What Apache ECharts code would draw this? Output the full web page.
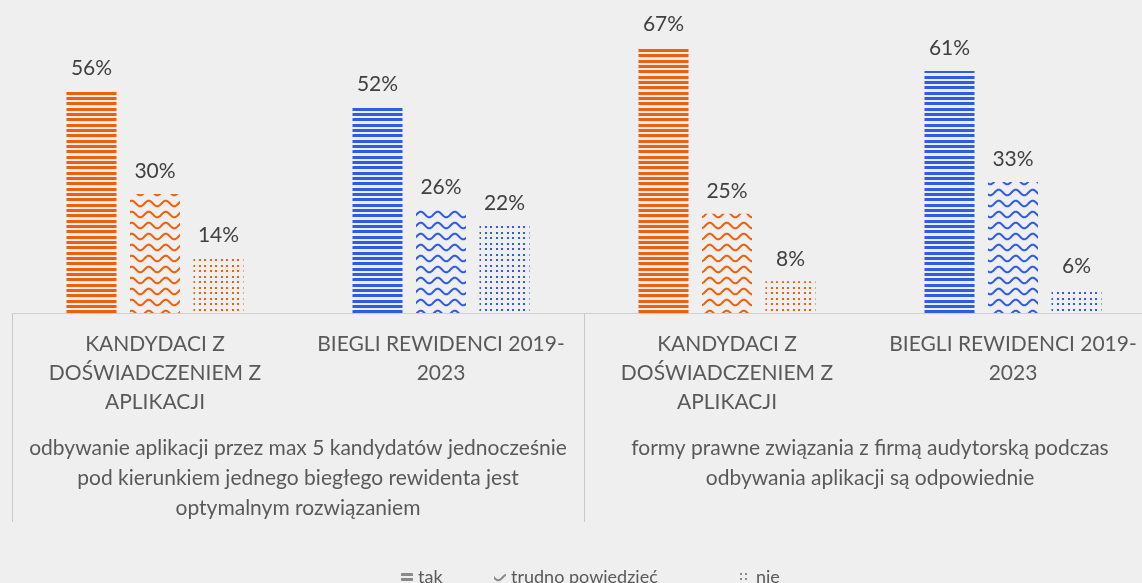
<!DOCTYPE html>
<html>
<head>
<meta charset="utf-8">
<script src="https://cdn.jsdelivr.net/npm/echarts@6/dist/echarts.min.js"></script>
<style>
html,body{margin:0;padding:0;background:#efefef;}
#chart{width:1142px;height:583px;}
</style>
</head>
<body>
<div id="chart"></div>
<script>
const categories = [
  'KANDYDACI Z\nDOŚWIADCZENIEM Z\nAPLIKACJI',
  'BIEGLI REWIDENCI 2019-\n2023',
  'KANDYDACI Z\nDOŚWIADCZENIEM Z\nAPLIKACJI',
  'BIEGLI REWIDENCI 2019-\n2023'
];
const groups = [
  'odbywanie aplikacji przez max 5 kandydatów jednocześnie\npod kierunkiem jednego biegłego rewidenta jest\noptymalnym rozwiązaniem',
  'formy prawne związania z firmą audytorską podczas\nodbywania aplikacji są odpowiednie'
];
const seriesNames = ['tak', 'trudno powiedzieć', 'nie'];
const tak = [56, 52, 67, 61];
const trudno = [30, 26, 25, 33];
const nie = [14, 22, 8, 6];

const ORANGE = '#F0600A';
const BLUE = '#2F5BEA';
const GRAY = '#8a8a8a';
const catColors = [ORANGE, BLUE, ORANGE, BLUE];

function stripes(color) {
  const c = document.createElement('canvas');
  c.width = 8; c.height = 16;
  const g = c.getContext('2d');
  g.fillStyle = color;
  g.fillRect(0, 1, 8, 3);
  g.fillRect(0, 6, 8, 3);
  g.fillRect(0, 12, 8, 3);
  return { image: c, repeat: 'repeat' };
}
function waves(color) {
  const c = document.createElement('canvas');
  c.width = 17; c.height = 11;
  const g = c.getContext('2d');
  g.strokeStyle = color;
  g.lineWidth = 2;
  g.beginPath();
  for (let x = -1; x <= 18; x += 0.5) {
    const y = 5.5 + 2.8 * Math.sin(2 * Math.PI * x / 17);
    if (x === -1) g.moveTo(x, y); else g.lineTo(x, y);
  }
  g.stroke();
  return { image: c, repeat: 'repeat' };
}
function dots(color) {
  const c = document.createElement('canvas');
  c.width = 11; c.height = 11;
  const g = c.getContext('2d');
  g.fillStyle = color;
  [[1,1],[6,1],[1,6],[6,6]].forEach(p => g.fillRect(p[0], p[1], 2, 2));
  return { image: c, repeat: 'repeat' };
}
const makers = [stripes, waves, dots];
const values = [tak, trudno, nie];

const FONT = 'Lato, "Open Sans", sans-serif';

const series = seriesNames.map((name, si) => ({
  name: name,
  type: 'bar',
  barWidth: 50,
  barGap: '27%',
  itemStyle: { color: makers[si](GRAY) },
  label: {
    show: true,
    position: 'top',
    distance: 12,
    formatter: '{c}%',
    color: '#404040',
    fontSize: 21,
    fontFamily: FONT
  },
  data: values[si].map((v, i) => ({
    value: v,
    itemStyle: { color: makers[si](catColors[i]) }
  }))
}));

const legendLeft = [396, 489, 734];
const legendBase = {
  top: 563,
  itemWidth: 12,
  itemHeight: 10,
  itemGap: 6,
  textStyle: { color: '#595959', fontSize: 18, fontFamily: FONT }
};
const legends = seriesNames.map((n, i) => Object.assign({}, legendBase, { data: [n], left: legendLeft[i] }));

const chart = echarts.init(document.getElementById('chart'), null, { renderer: 'canvas' });
chart.setOption({
  backgroundColor: '#efefef',
  animation: false,
  textStyle: { fontFamily: FONT },
  grid: { left: 12, width: 1144, top: 0, height: 313, outerBoundsMode: 'none', containLabel: false },
  legend: legends,
  xAxis: [
    {
      type: 'category',
      data: categories,
      position: 'bottom',
      axisLine: { show: true, lineStyle: { color: '#cfcfcf', width: 1 } },
      axisTick: { show: false },
      axisLabel: {
        interval: 0,
        margin: 17,
        color: '#595959',
        fontSize: 21,
        lineHeight: 29,
        fontFamily: FONT
      }
    },
    {
      type: 'category',
      data: groups,
      position: 'bottom',
      axisLine: { show: false },
      axisTick: { show: true, interval: 0, length: 209, lineStyle: { color: '#c8c8c8', width: 1 } },
      axisLabel: {
        interval: 0,
        margin: 120,
        color: '#595959',
        fontSize: 21,
        lineHeight: 30,
        fontFamily: FONT
      }
    }
  ],
  yAxis: {
    type: 'value',
    min: 0,
    max: 78.9,
    show: false,
    splitLine: { show: false }
  },
  series: series
});
</script>
</body>
</html>
